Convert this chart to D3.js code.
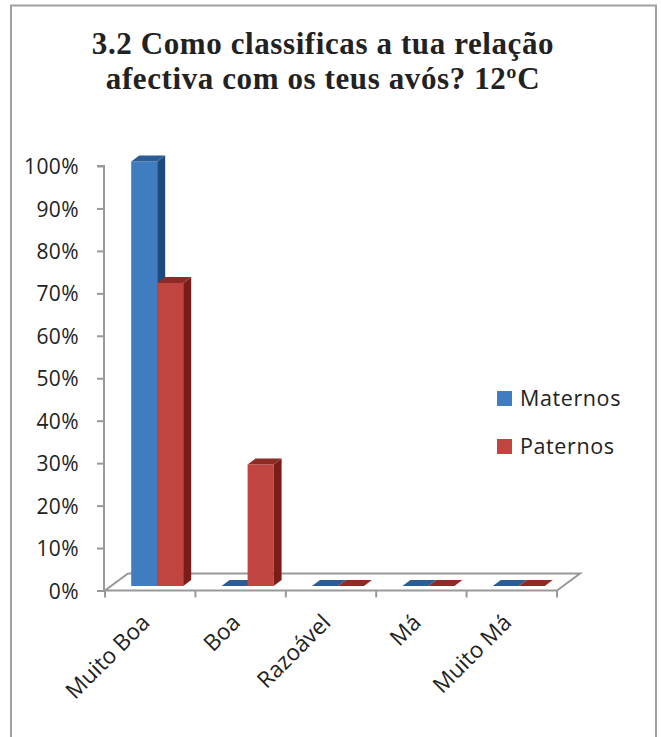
<!DOCTYPE html>
<html><head><meta charset="utf-8">
<script src="https://cdn.jsdelivr.net/npm/d3@7/dist/d3.min.js"></script>
<style>html,body{margin:0;padding:0;background:#fff;}svg{display:block;}</style>
</head><body>
<svg id="chart" width="661" height="737"></svg>
<script>
const titleLines = ["3.2 Como classificas a tua relação", "afectiva com os teus avós? 12ºC"];
const categories = ["Muito Boa", "Boa", "Razoável", "Má", "Muito Má"];
const seriesNames = ["Maternos", "Paternos"];
const maternos = [1.00, 0, 0, 0, 0];
const paternos = [0.714, 0.286, 0, 0, 0];
const yTicks = [0, 0.1, 0.2, 0.3, 0.4, 0.5, 0.6, 0.7, 0.8, 0.9, 1.0];

const colors = {
  Maternos: {front: "#407cc0", side: "#1c4a7d", top: "#2b5d94"},
  Paternos: {front: "#c0443f", side: "#7a1c18", top: "#8f2b26"}
};

const svg = d3.select("#chart");

// outer border
svg.append("rect").attr("x", 11).attr("y", 5.5).attr("width", 645).attr("height", 745)
  .attr("fill", "#fff").attr("stroke", "#a0a0a0").attr("stroke-width", 2);

// title
const title = svg.append("text").attr("text-anchor", "middle")
  .attr("font-family", "'Liberation Serif', serif").attr("font-weight", "bold")
  .attr("font-size", 31).attr("letter-spacing", 0.6).attr("fill", "#222");
titleLines.forEach((t, i) => {
  title.append("tspan").attr("x", 323).attr("y", 54 + i * 35).text(t);
});

// scales
const y = d3.scaleLinear().domain([0, 1]).range([590.5, 166]);
const x = d3.scaleBand().domain(categories).range([105, 557]).padding(0);

const floorD = {dx: 23, dy: -17};
const barD = {dx: 8, dy: -6};
const barOff = {dx: 7, dy: -4.5};
const barW = 26;

// floor
const gFloor = svg.append("g");
const fx0 = x.range()[0], fx1 = x.range()[1], fy = y(0);
gFloor.append("path")
  .attr("d", `M${fx0},${fy} L${fx1},${fy} L${fx1 + floorD.dx},${fy + floorD.dy} L${fx0 + floorD.dx},${fy + floorD.dy} Z`)
  .attr("fill", "none").attr("stroke", "#999").attr("stroke-width", 2);

// category ticks
const edges = categories.map(c => x(c)).concat([fx1]);
gFloor.selectAll("line.ct").data(edges).enter().append("line")
  .attr("x1", d => d).attr("x2", d => d).attr("y1", fy).attr("y2", fy + 7)
  .attr("stroke", "#999").attr("stroke-width", 2);

// y axis
const yAxis = d3.axisLeft(y).tickValues(yTicks).tickSize(7).tickFormat(d3.format(".0%"));
const gY = svg.append("g").attr("transform", `translate(104,0)`).call(yAxis);
gY.select(".domain").attr("stroke", "#999").attr("stroke-width", 2).attr("d", `M-7,${y(1)}H0V${y(0)}`);
gY.selectAll(".tick line").attr("stroke", "#999").attr("stroke-width", 2);
gY.selectAll(".tick text").attr("x", -25).attr("dy", "0.36em")
  .attr("font-family", "'Open Sans', sans-serif").attr("font-size", 21)
  .attr("letter-spacing", 0.4).attr("fill", "#222");

// bars
const gBars = svg.append("g");
const data = [];
categories.forEach((c, i) => {
  const cx = x(c) + x.bandwidth() / 2;
  [maternos[i], paternos[i]].forEach((v, s) => {
    data.push({cat: c, s: seriesNames[s], v, x0: cx + barOff.dx - barW + s * barW});
  });
});
const base = y(0) + barOff.dy;
const yb = v => y(v) + barOff.dy;
data.forEach(d => {
  const c = colors[d.s];
  const x0 = d.x0, x1 = d.x0 + barW, yt = yb(d.v), y0 = base;
  const g = gBars.append("g");
  if (d.v > 0) {
    g.append("path").attr("d", `M${x0},${y0} L${x1},${y0} L${x1},${yt} L${x0},${yt} Z`).attr("fill", c.front);
    g.append("path").attr("d", `M${x1},${y0} L${x1 + barD.dx},${y0 + barD.dy} L${x1 + barD.dx},${yt + barD.dy} L${x1},${yt} Z`).attr("fill", c.side);
  }
  g.append("path").attr("d", `M${x0},${yt} L${x1},${yt} L${x1 + barD.dx},${yt + barD.dy} L${x0 + barD.dx},${yt + barD.dy} Z`).attr("fill", c.top);
});

// category labels
svg.append("g").selectAll("text").data(categories).enter().append("text")
  .attr("transform", d => `translate(${x(d) + x.bandwidth() / 2 + 1},${624}) rotate(-45)`)
  .attr("text-anchor", "end")
  .attr("font-family", "'Open Sans', sans-serif").attr("font-size", 22.5)
  .attr("fill", "#222").text(d => d);

// legend
const leg = svg.append("g");
seriesNames.forEach((n, i) => {
  leg.append("rect").attr("x", 497).attr("y", 391 + i * 48).attr("width", 15).attr("height", 15)
    .attr("fill", colors[n].front);
  leg.append("text").attr("x", 520).attr("y", 406 + i * 48)
    .attr("font-family", "'Open Sans', sans-serif").attr("font-size", 21.5)
    .attr("letter-spacing", 0.6).attr("fill", "#222").text(n);
});
</script>
</body></html>
